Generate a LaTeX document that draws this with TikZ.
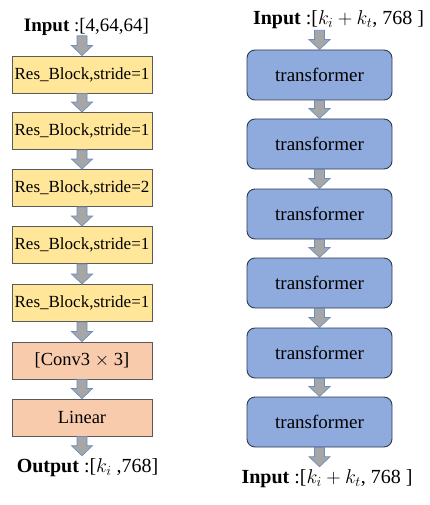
\RequirePackage{fix-cm}
\documentclass[tikz,border=0pt]{standalone}
\usepackage{fontspec}
\setmainfont{Liberation Serif}
\usetikzlibrary{calc}
\definecolor{resfill}{HTML}{FFE699}
\definecolor{convfill}{HTML}{F8CBAD}
\definecolor{trfill}{HTML}{8FAADC}
\definecolor{trline}{HTML}{2F3B4F}
\definecolor{boxline}{HTML}{5A5A5A}
\definecolor{arrfill}{HTML}{A6A6A6}
\definecolor{arrline}{HTML}{6C8EBF}
\tikzset{
  resbox/.style={draw=boxline, line width=0.9pt, fill=resfill, minimum width=140pt, minimum height=37pt, inner sep=0pt, font=\fontsize{17}{20}\selectfont},
  convbox/.style={draw=boxline, line width=0.9pt, fill=convfill, minimum width=140pt, minimum height=37pt, inner sep=0pt, font=\fontsize{18.5}{21}\selectfont},
  trbox/.style={draw=trline, line width=0.9pt, fill=trfill, rounded corners=8pt, minimum width=145pt, minimum height=50pt, inner sep=0pt, font=\fontsize{19}{22}\selectfont},
  lbl/.style={inner sep=0pt, font=\fontsize{19}{22}\selectfont},
  mlbl/.style={inner sep=0pt, font=\fontsize{20}{23}\selectfont},
  fat/.style={draw=arrline, fill=arrfill, line width=0.7pt, line join=miter,
    to path={($(\tikztostart)+(-5pt,0)$) -- ($(\tikztotarget)+(-5pt,10pt)$) -- ($(\tikztotarget)+(-10.5pt,10pt)$) -- (\tikztotarget) -- ($(\tikztotarget)+(10.5pt,10pt)$) -- ($(\tikztotarget)+(5pt,10pt)$) -- ($(\tikztostart)+(5pt,0)$) -- cycle}}
}
\begin{document}
\begin{tikzpicture}[x=1pt,y=1pt]
\useasboundingbox (0,0) rectangle (429,-505);
% left column
\node[lbl] (lin) at (86.5,-27) {\textbf{Input} :[4,64,64]};
\node[resbox] (l1) at (82,-74.5) {Res\_Block,stride=1};
\node[resbox] (l2) at (82,-131) {Res\_Block,stride=1};
\node[resbox] (l3) at (82,-188) {Res\_Block,stride=2};
\node[resbox] (l4) at (82,-245) {Res\_Block,stride=1};
\node[resbox] (l5) at (82,-303) {Res\_Block,stride=1};
\node[convbox] (l6) at (82,-360.5) {[Conv3 $\times$ 3]};
\node[convbox] (l7) at (82,-417.5) {Linear};
\node[mlbl] (lout) at (87.5,-468) {\textbf{Output} :[$k_i$ ,768]};
\coordinate (la) at (lin.south -| l1.north);
\coordinate (lb) at ($(lout.north -| l7.south)+(0,3pt)$);
\draw[fat] (la) to (l1.north);
\draw[fat] (l1.south) to (l2.north);
\draw[fat] (l2.south) to (l3.north);
\draw[fat] (l3.south) to (l4.north);
\draw[fat] (l4.south) to (l5.north);
\draw[fat] (l5.south) to (l6.north);
\draw[fat] (l6.south) to (l7.north);
\draw[fat] (l7.south) to (lb);
% right column
\node[mlbl] (rin) at (338.5,-20) {\textbf{Input} :[$k_i + k_t$, 768 ]};
\node[trbox] (r1) at (319.5,-75) {transformer};
\node[trbox] (r2) at (319.5,-144) {transformer};
\node[trbox] (r3) at (319.5,-214) {transformer};
\node[trbox] (r4) at (319.5,-283) {transformer};
\node[trbox] (r5) at (319.5,-353) {transformer};
\node[trbox] (r6) at (319.5,-422) {transformer};
\node[mlbl] (rout) at (327,-479) {\textbf{Input} :[$k_i + k_t$, 768 ]};
\coordinate (ra) at ($(rin.south -| r1.north)+(0,-1pt)$);
\coordinate (rb) at ($(rout.north -| r6.south)+(0,3pt)$);
\draw[fat] (ra) to (r1.north);
\draw[fat] (r1.south) to (r2.north);
\draw[fat] (r2.south) to (r3.north);
\draw[fat] (r3.south) to (r4.north);
\draw[fat] (r4.south) to (r5.north);
\draw[fat] (r5.south) to (r6.north);
\draw[fat] (r6.south) to (rb);
\end{tikzpicture}
\end{document}
